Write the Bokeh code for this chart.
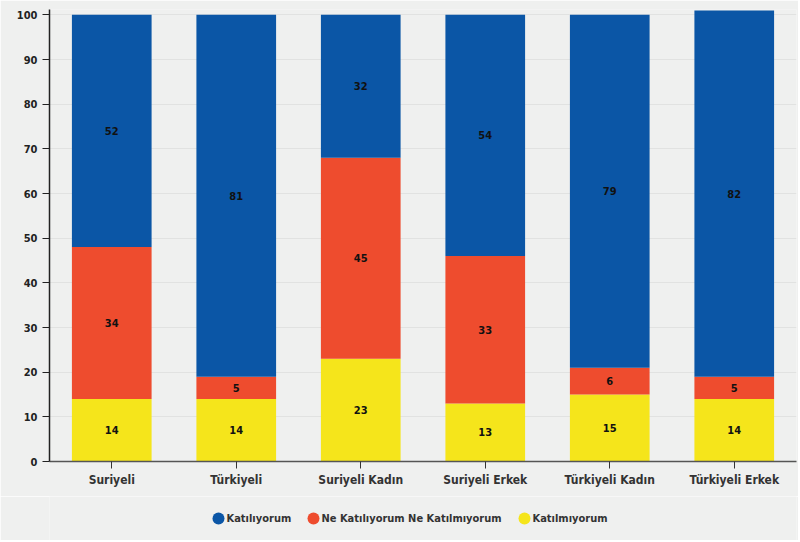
import numpy as np
from bokeh.plotting import figure
from bokeh.layouts import column
from bokeh.models import ColumnDataSource, LabelSet, Range1d, FactorRange
from bokeh.core.properties import value
from bokeh.embed import file_html
from bokeh.resources import INLINE

categories = ["Suriyeli", "Türkiyeli", "Suriyeli Kadın", "Suriyeli Erkek", "Türkiyeli Kadın", "Türkiyeli Erkek"]
katilmiyorum = [14, 14, 23, 13, 15, 14]
ne_ne = [34, 5, 45, 33, 6, 5]
katiliyorum = [52, 81, 32, 54, 79, 82]
series_names = ["Katılıyorum", "Ne Katılıyorum Ne Katılmıyorum", "Katılmıyorum"]
y_ticks = [0, 10, 20, 30, 40, 50, 60, 70, 80, 90, 100]

BLUE = "#0b56a6"
RED = "#ee4c2e"
YELLOW = "#f5e51b"
BG = "#eff0ef"
FONT = "DejaVu Sans Condensed"
W = 798
LEFT = 49
RIGHT = 2

src = ColumnDataSource(dict(cat=categories, k0=katilmiyorum, k1=ne_ne, k2=katiliyorum))

p = figure(x_range=FactorRange(*categories, range_padding=0), y_range=Range1d(0, 101.2),
           width=W, height=496, output_backend="svg", toolbar_location=None,
           min_border_left=LEFT, min_border_right=RIGHT, min_border_top=9, min_border_bottom=35)
p.background_fill_color = BG
p.border_fill_color = BG
p.outline_line_color = None

p.vbar_stack(["k0", "k1", "k2"], x="cat", width=0.64, source=src,
             color=[YELLOW, RED, BLUE], line_color=None)

# segment labels
a = np.array(katilmiyorum, dtype=float)
b = np.array(ne_ne, dtype=float)
c = np.array(katiliyorum, dtype=float)
lab_x = categories * 3
lab_y = list(a / 2) + list(a + b / 2) + list(a + b + c / 2)
lab_t = [str(v) for v in katilmiyorum + ne_ne + katiliyorum]
lsrc = ColumnDataSource(dict(x=lab_x, y=lab_y, t=lab_t))
labels = LabelSet(x="x", y="y", text="t", source=lsrc, text_align="center", text_baseline="middle",
                  text_font=value(FONT), text_font_style=value("bold"), text_font_size=value("11px"),
                  text_color=value("#111111"))
p.add_layout(labels)

p.yaxis.ticker = y_ticks
p.yaxis.axis_line_color = "#222222"
p.yaxis.axis_line_width = 1.5
p.yaxis.major_tick_line_color = "#222222"
p.yaxis.major_tick_out = 7
p.yaxis.major_tick_in = 0
p.yaxis.minor_tick_line_color = None
p.yaxis.major_label_text_font = FONT
p.yaxis.major_label_text_font_style = "bold"
p.yaxis.major_label_text_font_size = "11px"
p.yaxis.major_label_text_color = "#222222"
p.yaxis.major_label_standoff = 5

p.xaxis.axis_line_color = "#555555"
p.xaxis.axis_line_width = 1.5
p.xaxis.major_tick_line_color = "#333333"
p.xaxis.major_tick_out = 7
p.xaxis.major_tick_in = 0
p.xaxis.major_label_text_font = FONT
p.xaxis.major_label_text_font_style = "bold"
p.xaxis.major_label_text_font_size = "12px"
p.xaxis.major_label_text_color = "#333333"
p.xaxis.major_label_standoff = 4

p.xgrid.grid_line_color = None
p.ygrid.grid_line_color = "#e1e2e1"
p.ygrid.grid_line_width = 1

# legend strip (x in page pixels)
q = figure(x_range=Range1d(LEFT, W - RIGHT), y_range=Range1d(0, 44), width=W, height=44,
           output_backend="svg", toolbar_location=None,
           min_border_left=LEFT, min_border_right=RIGHT, min_border_top=0, min_border_bottom=0)
q.background_fill_color = BG
q.border_fill_color = BG
q.outline_line_color = None
q.axis.visible = False
q.grid.visible = False

legend_colors = [BLUE, RED, YELLOW]
legend_marker_x = [218, 313, 524]
legend_text_x = [226, 321, 532]
q.scatter(x=legend_marker_x, y=[22] * 3, marker="circle", size=12, color=legend_colors, line_color=None)
q.text(x=legend_text_x, y=[22] * 3, text=series_names, text_align="left", text_baseline="middle",
       text_font=value(FONT), text_font_style="bold", text_font_size="11px", text_color="#333333")

open("out.html", "w").write(file_html(column(p, q, spacing=0), INLINE))
